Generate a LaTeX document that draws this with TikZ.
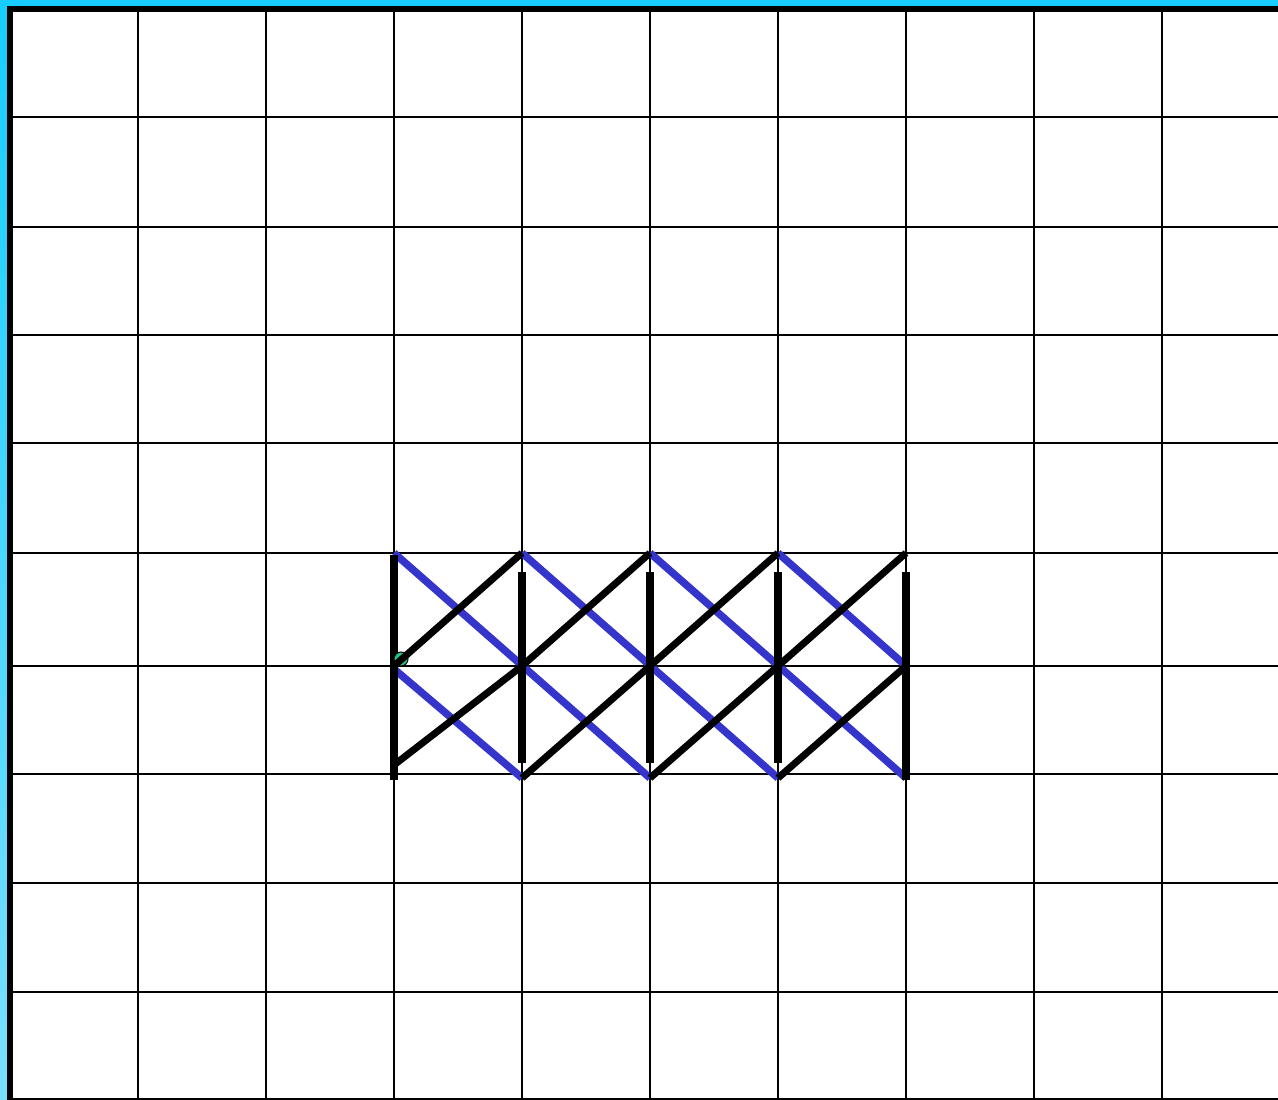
\documentclass[tikz,border=0pt]{standalone}
\usetikzlibrary{calc}
\definecolor{bordertop}{HTML}{17CDFF}
\definecolor{borderbot}{HTML}{7ADFFF}
\definecolor{stitchblue}{HTML}{3535CC}
\definecolor{dotgreen}{HTML}{1FC490}
\tikzset{
  gridline/.style={line width=2.2pt, black},
  blackstitch/.style={line width=7pt, black},
  barstitch/.style={line width=8pt, black},
  bluestitch/.style={line width=7.5pt, stitchblue},
}
\begin{document}
\begin{tikzpicture}[x=1pt,y=-1pt]
\useasboundingbox (0,0) rectangle (1278,1100);
\fill[white] (0,0) rectangle (1278,1100);
% grid
\foreach \x in {138,266,394,522,650,778,906,1034,1162}
  \draw[gridline] (\x,0) -- (\x,1100);
\foreach \y in {117,227,335,443,553,666,774,883,992,1099}
  \draw[gridline] (0,\y) -- (1278,\y);
% border
\shade[top color=bordertop, bottom color=borderbot] (0,0) rectangle (7,1100);
\fill[bordertop] (0,0) rectangle (1278,6);
\fill[black] (7,6) rectangle (1278,12);
\fill[black] (7,6) rectangle (13,1100);
% named points of the stitch area
\foreach \i/\x in {0/394,1/522,2/650,3/778,4/906} {
  \coordinate (t\i) at (\x,553);
  \coordinate (m\i) at (\x,666);
  \coordinate (b\i) at (\x,778);
}
% blue diagonals
\draw[bluestitch] (t0) -- (b2);
\draw[bluestitch] (t1) -- (b3);
\draw[bluestitch] (t2) -- (b4);
\draw[bluestitch] (t3) -- (m4);
\draw[bluestitch] (394,669) -- (b1);
% vertical bars
\draw[barstitch] (394,555) -- (394,780);
\foreach \x in {522,650,778} \draw[barstitch] (\x,572) -- (\x,763);
\draw[barstitch] (906,572) -- (906,780);
% start dot
\draw[black, fill=dotgreen, line width=1pt] (401,659) circle (7);
% black diagonals
\draw[blackstitch] (m0) -- (t1);
\draw[blackstitch] (394,765) -- (m1);
\foreach \i/\j in {1/2,2/3,3/4} {
  \draw[blackstitch] (m\i) -- (t\j);
  \draw[blackstitch] (b\i) -- (m\j);
}
\end{tikzpicture}
\end{document}
